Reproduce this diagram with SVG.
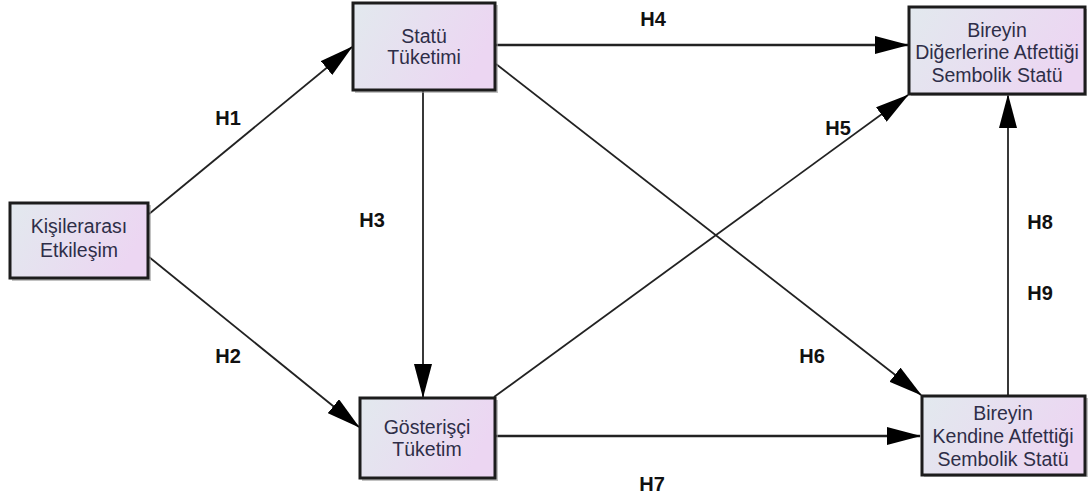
<svg xmlns="http://www.w3.org/2000/svg" width="1088" height="497" viewBox="0 0 1088 497">
<defs>
<linearGradient id="g" x1="0" y1="0" x2="1" y2="0.3">
<stop offset="0" stop-color="#e2e9ee"/>
<stop offset="1" stop-color="#ecd6f2"/>
</linearGradient>
<marker id="ah" markerUnits="userSpaceOnUse" markerWidth="34" markerHeight="18" refX="33" refY="9" orient="auto">
<path d="M0,0 L34,9 L0,18 Z" fill="#000"/>
</marker>
<style>
.box{fill:url(#g);stroke:#1c1c1c;stroke-width:3}
.sh{fill:#9a9a9a;opacity:0.6}
.t{font-family:"Liberation Sans",Arial,sans-serif;font-size:19.5px;fill:#2e2e48;text-anchor:middle}
.lab{font-family:"Liberation Sans",Arial,sans-serif;font-size:20px;font-weight:bold;fill:#111;text-anchor:middle}
.c{stroke:#222;stroke-width:1.8;fill:none;marker-end:url(#ah)}
.c.h{stroke-width:2.6}
</style>
</defs>
<rect width="1088" height="497" fill="#fff"/>
<g id="connectors">
<line class="c" x1="149" y1="214" x2="352" y2="47"/>
<line class="c" x1="149" y1="257" x2="359" y2="427"/>
<line class="c" x1="423" y1="91" x2="423" y2="397"/>
<line class="c h" x1="496" y1="45" x2="908" y2="45"/>
<line class="c" x1="496" y1="64" x2="921" y2="395"/>
<line class="c" x1="494" y1="397" x2="908" y2="95"/>
<line class="c h" x1="496" y1="436" x2="920" y2="436"/>
<line class="c" x1="1008" y1="396" x2="1008" y2="95"/>
</g>
<g id="labels">
<text class="lab" x="228" y="125">H1</text>
<text class="lab" x="228" y="363">H2</text>
<text class="lab" x="372" y="227">H3</text>
<text class="lab" x="653" y="26">H4</text>
<text class="lab" x="838" y="135">H5</text>
<text class="lab" x="812" y="363">H6</text>
<text class="lab" x="652" y="491">H7</text>
<text class="lab" x="1040" y="229">H8</text>
<text class="lab" x="1040" y="300">H9</text>
</g>
<g id="kisilerarasi">
<rect class="sh" x="12" y="205" width="139" height="76"/>
<rect class="box" x="10" y="203" width="138" height="75"/>
<text class="t" x="79" y="233">Kişilerarası</text>
<text class="t" x="79" y="257">Etkileşim</text>
</g>
<g id="statu">
<rect class="sh" x="355" y="5" width="143" height="88"/>
<rect class="box" x="353" y="3" width="142" height="87"/>
<text class="t" x="424" y="43">Statü</text>
<text class="t" x="424" y="64">Tüketimi</text>
</g>
<g id="diger">
<rect class="sh" x="911" y="9" width="176" height="87"/>
<rect class="box" x="909" y="7" width="176" height="87"/>
<text class="t" x="997" y="37">Bireyin</text>
<text class="t" x="997" y="59">Diğerlerine Atfettiği</text>
<text class="t" x="997" y="82">Sembolik Statü</text>
</g>
<g id="gosterisci">
<rect class="sh" x="362" y="400" width="136" height="81"/>
<rect class="box" x="360" y="398" width="135" height="80"/>
<text class="t" x="427" y="434">Gösterişçi</text>
<text class="t" x="427" y="456">Tüketim</text>
</g>
<g id="kendine">
<rect class="sh" x="924" y="398" width="164" height="79"/>
<rect class="box" x="922" y="396" width="163" height="79"/>
<text class="t" x="1003" y="420">Bireyin</text>
<text class="t" x="1003" y="443">Kendine Atfettiği</text>
<text class="t" x="1003" y="466">Sembolik Statü</text>
</g>
</svg>
